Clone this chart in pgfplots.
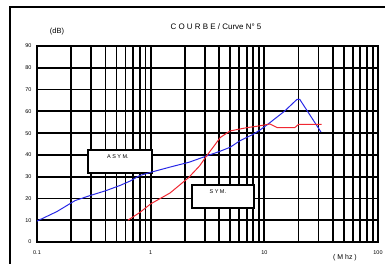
\documentclass[border=0pt]{standalone}
\usepackage{fontspec}
\setmainfont{Liberation Sans}
\usepackage{pgfplots}
\pgfplotsset{compat=1.18}
\definecolor{cblue}{RGB}{40,40,230}
\definecolor{cred}{RGB}{240,40,50}
\begin{document}
\begin{tikzpicture}
\useasboundingbox (0bp,0bp) rectangle (385bp,264bp);
\draw[line width=1.8pt] (10bp,-20bp) -- (10bp,257bp) -- (400bp,257bp);
\node[font=\fontsize{8}{9}\selectfont] at (216bp,237bp) {C O U R B E / Curve N° 5};
\node[font=\fontsize{7.5}{9}\selectfont] at (57bp,232bp) {(dB)};
\node[font=\fontsize{7}{8}\selectfont] at (345bp,6bp) {( M hz )};
\begin{axis}[
  at={(37bp,22bp)}, anchor=south west,
  scale only axis, width=341bp, height=196bp,
  xmode=log, log basis x=10,
  xmin=0.1, xmax=100, ymin=0, ymax=90,
  xtick={0.1,1,10,100}, xticklabels={0.1,1,10,100},
  minor xtick={0.2,0.3,0.4,0.5,0.6,0.7,0.8,0.9,2,3,4,5,6,7,8,9,20,30,40,50,60,70,80,90},
  ytick={0,10,...,90},
  grid=both,
  minor ytick={},
  major grid style={black, line width=1.8pt, opacity=1},
  minor grid style={black, line width=1.8pt, opacity=1},
  axis line style={black, line width=1.8pt},
  tick style={black},
  major tick length=0pt,
  minor tick length=0pt,
  /pgf/number format/assume math mode=true,
  ticklabel style={font=\fontsize{5.5}{6}\selectfont},
  xticklabel style={yshift=-5pt},
  yticklabel style={xshift=-2pt},
]
\draw[fill=white, line width=1.8pt] (axis cs:0.281,31.7) rectangle (axis cs:1.03,42.2);
\node[font=\fontsize{5.5}{6}\selectfont] at (axis cs:0.515,39.2) {A S Y M.};
\draw[fill=white, line width=1.8pt] (axis cs:2.31,15.6) rectangle (axis cs:8.1,26.2);
\node[font=\fontsize{5.5}{6}\selectfont] at (axis cs:3.9,23) {S Y M.};
\addplot[cblue, line width=1pt, no marks] coordinates {
(0.1,9.6) (0.15,14) (0.216,19) (0.3,21.5) (0.4,23.5) (0.54,26) (0.66,28)
(0.8,30.5) (1.0,32) (1.48,34.4) (2.2,36.7) (3.1,39.5) (4,41.5) (5,43.5)
(6.1,46.5) (8,49.5) (9.2,51.5) (10.7,54) (15,60) (19.4,65.5) (20.5,65.5) (31.5,50.5)
};
\addplot[cred, line width=1pt, no marks] coordinates {
(0.63,10) (0.8,13.5) (1.0,17.5) (1.48,22.5) (2.15,29.5) (2.7,35) (3.1,39.5)
(3.6,44) (4.1,48) (5.0,51) (7,52.5) (9,53.3) (11.2,54.2) (13,52.5) (18.5,52.5)
(20,54) (32,54)
};
\end{axis}
\end{tikzpicture}
\end{document}
